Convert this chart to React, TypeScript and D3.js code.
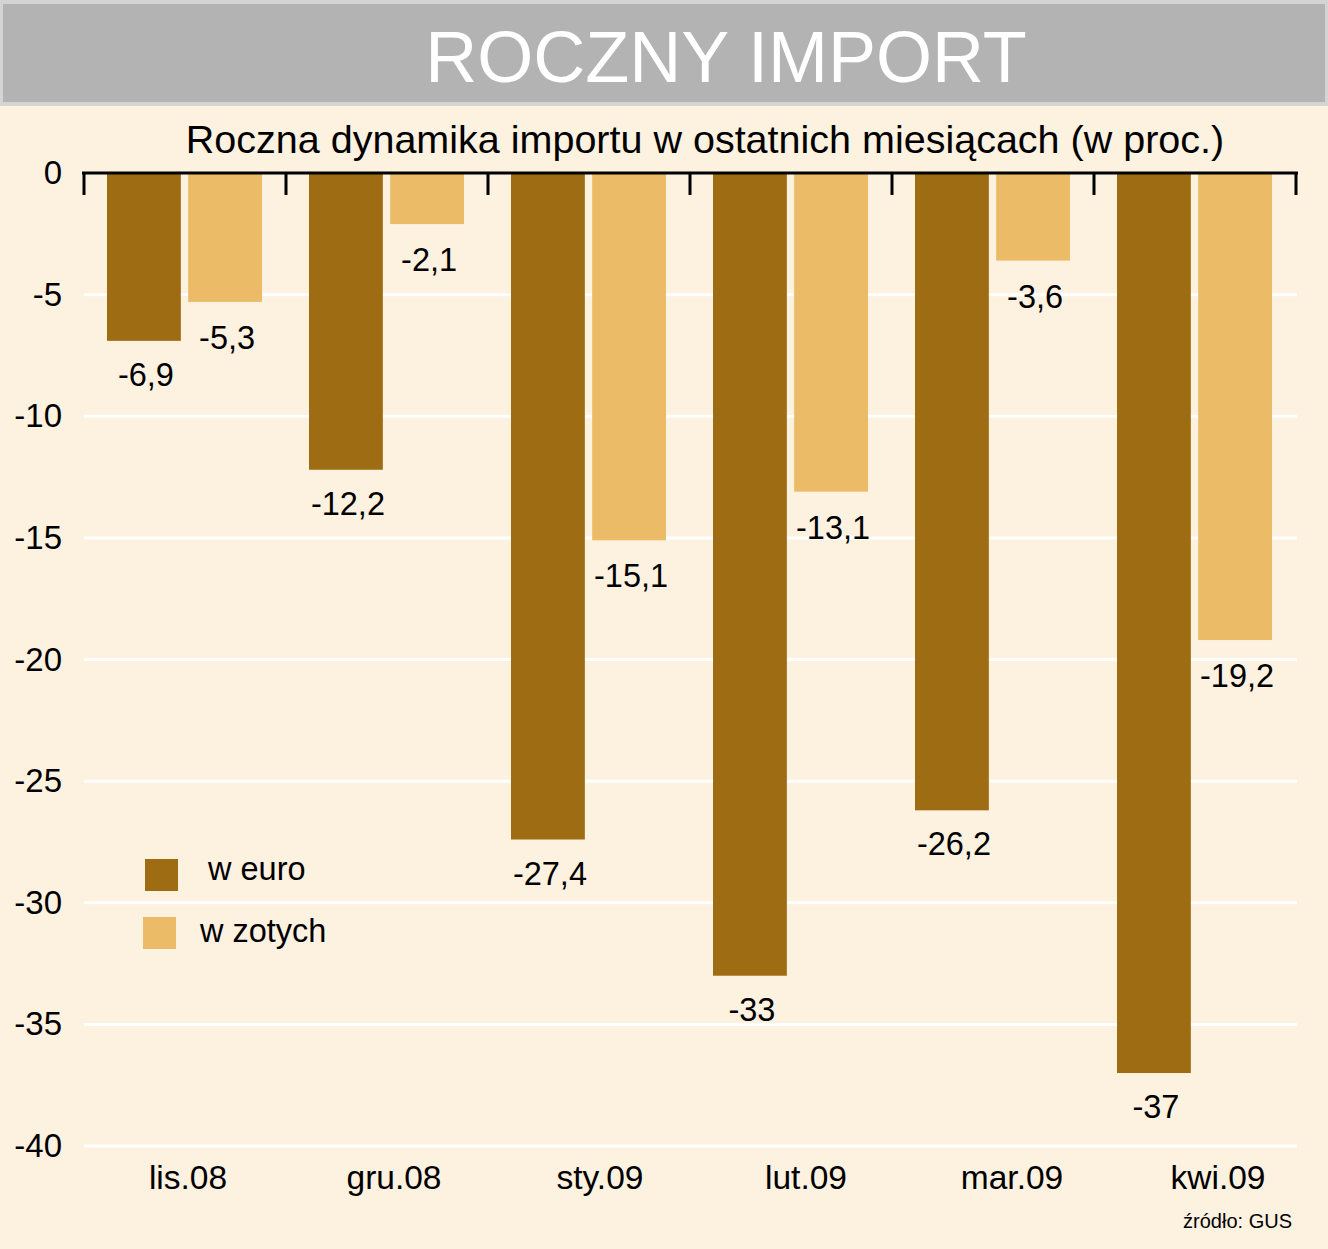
import * as d3 from "d3";

const months = ["lis.08", "gru.08", "sty.09", "lut.09", "mar.09", "kwi.09"];
const euroValues = [-6.9, -12.2, -27.4, -33, -26.2, -37];
const zlotyValues = [-5.3, -2.1, -15.1, -13.1, -3.6, -19.2];
const seriesKeys = ["euro", "zloty"];
const seriesNames = ["w euro", "w zotych"];
const yTickValues = [0, -5, -10, -15, -20, -25, -30, -35, -40];

const W = 1328;
const H = 1249;
const colors: Record<string, string> = { euro: "#9e6c12", zloty: "#ebbb68" };
const labelOffset: Record<string, number> = { euro: 45, zloty: 47 };
const font = "'Liberation Sans', Arial, sans-serif";

const fmt = (v: number) => String(v).replace(".", ",");

const App = () => {
  const x0 = d3.scaleBand<string>().domain(months).range([84, 1296]);
  const x1 = d3
    .scaleBand<string>()
    .domain(seriesKeys)
    .range([23, 178])
    .paddingInner(0.09);
  // category labels sit a little to the right of the bands, drifting further out
  const xLabel = d3.scalePoint<string>().domain(months).range([188, 1218]);
  const y = d3.scaleLinear().domain([0, -40]).range([173, 1146]);

  const rows = months.map((m, i) => ({
    month: m,
    euro: euroValues[i],
    zloty: zlotyValues[i],
  }));

  const boundaries = d3.range(months.length + 1).map((i) => 84 + i * x0.step());

  return (
    <svg
      width={W}
      height={H}
      style={{ position: "absolute", left: 0, top: 0 }}
      fontFamily={font}
    >
      <rect x={0} y={0} width={W} height={H} fill="#d4d4d4" />
      <rect x={0} y={106} width={W} height={H - 106} fill="#fdf1e0" />
      <rect x={3} y={4} width={W - 6} height={98} fill="#b3b3b3" />
      <text x={726} y={82} fontSize={72} fill="#fff" textAnchor="middle">
        ROCZNY IMPORT
      </text>
      <text x={705} y={153} fontSize={39.5} fill="#000" textAnchor="middle">
        Roczna dynamika importu w ostatnich miesiącach (w proc.)
      </text>

      {/* gridlines */}
      {yTickValues.slice(1).map((t) => (
        <line
          key={t}
          x1={84}
          x2={1297}
          y1={y(t)}
          y2={y(t)}
          stroke="#fff"
          strokeWidth={3}
        />
      ))}

      {/* y labels */}
      {yTickValues.map((t) => (
        <text
          key={t}
          x={62}
          y={y(t) + 11}
          fontSize={33}
          textAnchor="end"
          fill="#000"
        >
          {t}
        </text>
      ))}

      {/* bars */}
      {rows.map((r) => (
        <g key={r.month} transform={`translate(${x0(r.month)},0)`}>
          {seriesKeys.map((k) => {
            const v = (r as any)[k] as number;
            const bx = x1(k) ?? 0;
            return (
              <g key={k}>
                <rect
                  x={bx}
                  y={y(0)}
                  width={x1.bandwidth()}
                  height={y(v) - y(0)}
                  fill={colors[k]}
                />
                <text
                  x={bx + x1.bandwidth() / 2 + 2}
                  y={y(v) + labelOffset[k]}
                  fontSize={32.5}
                  textAnchor="middle"
                  fill="#000"
                >
                  {fmt(v)}
                </text>
              </g>
            );
          })}
        </g>
      ))}

      {/* zero axis */}
      <line x1={82} x2={1298} y1={y(0)} y2={y(0)} stroke="#000" strokeWidth={3} />
      {boundaries.map((bx, i) => (
        <line
          key={i}
          x1={bx}
          x2={bx}
          y1={y(0)}
          y2={y(0) + 22}
          stroke="#000"
          strokeWidth={3}
        />
      ))}

      {/* x labels */}
      {months.map((m) => (
        <text
          key={m}
          x={xLabel(m)}
          y={1189}
          fontSize={33.5}
          textAnchor="middle"
          fill="#000"
        >
          {m}
        </text>
      ))}

      {/* legend */}
      {seriesKeys.map((k, i) => (
        <g key={k} transform={`translate(${145 - i * 2},${859 + i * 58})`}>
          <rect x={0} y={0} width={33} height={32} fill={colors[k]} />
          <text x={63 - i * 6} y={21 + i * 4} fontSize={32.5} fill="#000">
            {seriesNames[i]}
          </text>
        </g>
      ))}

      <text x={1292} y={1228} fontSize={20} textAnchor="end" fill="#000">
        źródło: GUS
      </text>
    </svg>
  );
};

export default App;
